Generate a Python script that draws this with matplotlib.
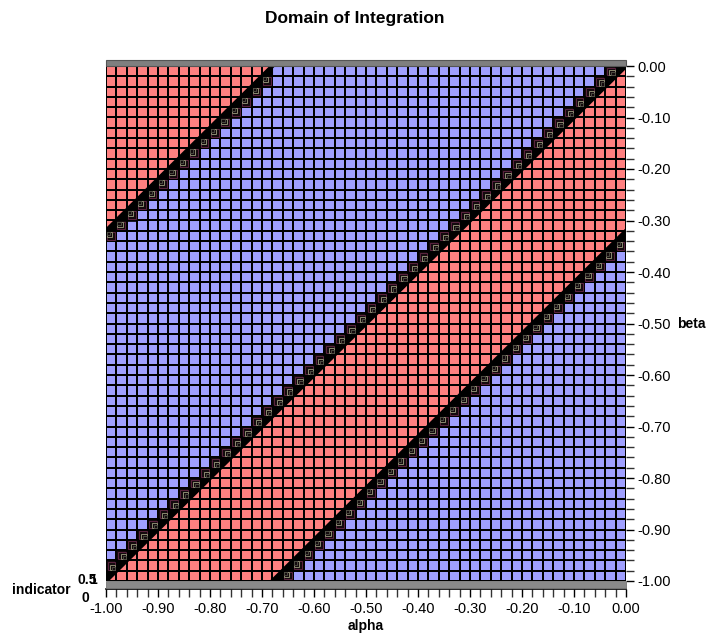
import numpy as np
import matplotlib
matplotlib.use('Agg')
import matplotlib.pyplot as plt
from matplotlib.patches import Rectangle, Polygon
from matplotlib.collections import PatchCollection
from matplotlib.ticker import MultipleLocator, FormatStrFormatter

plt.rcParams['font.family'] = ['Liberation Sans', 'DejaVu Sans']

# grid: 50 x 50 cells over [-1, 0]
alpha_edges = np.linspace(-1.0, 0.0, 51)
beta_edges = np.linspace(-1.0, 0.0, 51)
step = 0.02

# ranges of (beta - alpha) where indicator = 1 (red)
red_bands = [(0.68, 1.0), (-0.32, 0.0)]
# boundary offsets and which side is the indicator=0 side (+1: above/left, -1: below/right)
boundaries = [(0.68, -1), (0.0, 1), (-0.32, -1)]

red = '#ff8080'
blue = '#a0a0ff'

ac = (alpha_edges[:-1] + alpha_edges[1:]) / 2
bc = (beta_edges[:-1] + beta_edges[1:]) / 2
A, B = np.meshgrid(ac, bc)
D = np.round((B - A) / step).astype(int)
ind = np.zeros_like(A)
for lo, hi in red_bands:
    ind[(D >= round(lo / step)) & (D <= round(hi / step))] = 1

fig = plt.figure(figsize=(7.1, 6.42), dpi=100)
ax = fig.add_axes([106 / 710, 1 - 581 / 642, 520 / 710, 515 / 642])

ax.pcolormesh(alpha_edges, beta_edges, ind, cmap=matplotlib.colors.ListedColormap([blue, red]),
              vmin=0, vmax=1, edgecolors='black', linewidth=1.4)

tris = []
stairs = []
for off, side in boundaries:
    k = int(round(off / step))
    for i in range(50):
        j = i + k
        if j < 0 or j > 49:
            continue
        a0, a1 = alpha_edges[i], alpha_edges[i + 1]
        b0, b1 = beta_edges[j], beta_edges[j + 1]
        if side == 1:
            tris.append(Polygon([(a0, b0), (a0, b1), (a1, b1)], closed=True))
        else:
            tris.append(Polygon([(a0, b0), (a1, b0), (a1, b1)], closed=True))
        js = j + side
        if 0 <= js <= 49:
            stairs.append((i, js, side))

ax.add_collection(PatchCollection(tris, facecolor='black', edgecolor='black', linewidth=1.5, zorder=3))
for off, side in boundaries:
    ax.axline((0, off), slope=1, color='black', lw=3, zorder=3)

for i, j, side in stairs:
    a0, b0 = alpha_edges[i], beta_edges[j]
    ax.add_patch(Rectangle((a0, b0), step, step, facecolor='#140a0e', edgecolor='black', lw=1.2, zorder=4))
    for frac, col in [(0.75, '#5c2440'), (0.5, '#8a8a70'), (0.3, '#4a4a40')]:
        s = step * frac
        if side == 1:
            x0, y0 = a0 + step - s - 0.002, b0 + 0.002
        else:
            x0, y0 = a0 + 0.002, b0 + step - s - 0.002
        ax.add_patch(Rectangle((x0, y0), s, s, facecolor='none', edgecolor=col, lw=0.7, zorder=5))

ax.set_xlim(-1, 0)
ax.set_ylim(-1, 0)

# grey box sides
ax.add_patch(Rectangle((0, 1), 1, 6 / 515, transform=ax.transAxes, facecolor='#7f7f7f',
                       edgecolor='#555555', lw=0.8, clip_on=False, zorder=6))
ax.add_patch(Rectangle((0, -7 / 515), 1, 7 / 515, transform=ax.transAxes, facecolor='#8a8a8a',
                       edgecolor='#777777', lw=0.6, clip_on=False, zorder=6))

for s in ['left', 'top', 'right']:
    ax.spines[s].set_visible(False)
ax.spines['bottom'].set_position(('outward', 6))
ax.spines['bottom'].set_linewidth(1.2)

ax.xaxis.set_major_locator(MultipleLocator(0.1))
ax.xaxis.set_minor_locator(MultipleLocator(0.02))
ax.xaxis.set_major_formatter(FormatStrFormatter('%.2f'))
ax.yaxis.set_major_locator(MultipleLocator(0.1))
ax.yaxis.set_minor_locator(MultipleLocator(0.02))
ax.yaxis.set_major_formatter(FormatStrFormatter('%.2f'))
ax.yaxis.tick_right()
ax.tick_params(axis='both', which='major', length=6, width=1, labelsize=10.5, pad=2, color='black')
ax.tick_params(axis='both', which='minor', length=6, width=1, color='#333333')
ax.tick_params(axis='x', which='major', pad=3)

ax.set_xlabel('alpha', fontsize=10, fontweight='bold', labelpad=2)
ax.text(1.098, 0.5, 'beta', transform=ax.transAxes, fontsize=10, fontweight='bold', va='center', ha='left')

fig.text(12 / 710, 1 - 590 / 642, 'indicator', fontsize=10, fontweight='bold', va='center', ha='left')
fig.text(97 / 710, 1 - 580 / 642, '0.5', fontsize=10, fontweight='bold', va='center', ha='right')
fig.text(97 / 710, 1 - 580 / 642, '1', fontsize=10, fontweight='bold', va='center', ha='right')
fig.text(85 / 710, 1 - 598 / 642, '0', fontsize=10, fontweight='bold', va='center', ha='center')

fig.text(0.5, 1 - 19 / 642, 'Domain of Integration', fontsize=12.5, fontweight='bold', ha='center', va='center')

fig.savefig('out.png', dpi=100)
plt.close(fig)
